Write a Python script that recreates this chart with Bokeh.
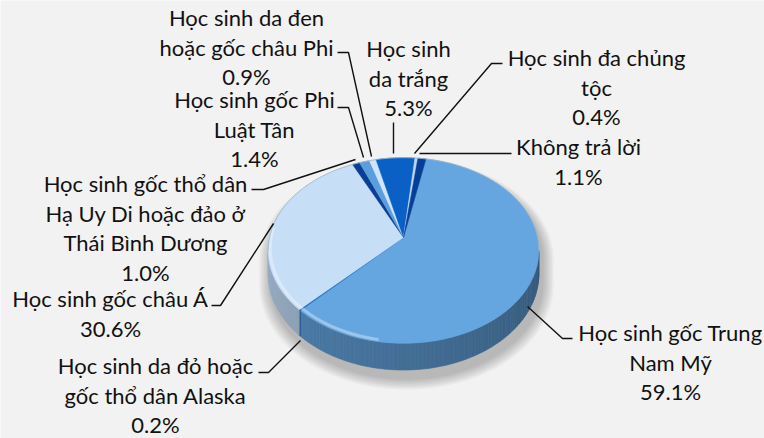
import math
from bokeh.plotting import figure
from bokeh.models import Range1d
from bokeh.embed import file_html
from bokeh.resources import INLINE
from bokeh.core.properties import value

# ---------------- data (clockwise order of the slices) ----------------
categories = [
    "Học sinh gốc Trung Nam Mỹ",
    "Học sinh da đỏ hoặc gốc thổ dân Alaska",
    "Học sinh gốc châu Á",
    "Học sinh gốc thổ dân Hạ Uy Di hoặc đảo ở Thái Bình Dương",
    "Học sinh gốc Phi Luật Tân",
    "Học sinh da đen hoặc gốc châu Phi",
    "Học sinh da trắng",
    "Học sinh đa chủng tộc",
    "Không trả lời",
]
label_lines = [
    ["Học sinh gốc Trung", "Nam Mỹ"],
    ["Học sinh da đỏ hoặc", "gốc thổ dân Alaska"],
    ["Học sinh gốc châu Á"],
    ["Học sinh gốc thổ dân", "Hạ Uy Di hoặc đảo ở", "Thái Bình Dương"],
    ["Học sinh gốc Phi", "Luật Tân"],
    ["Học sinh da đen", "hoặc gốc châu Phi"],
    ["Học sinh", "da trắng"],
    ["Học sinh đa chủng", "tộc"],
    ["Không trả lời"],
]
percentages = [59.1, 0.2, 30.6, 1.0, 1.4, 0.9, 5.3, 0.4, 1.1]

# ---------------- styles / layout ----------------
colors = ["#66A6E0", "#1F6FC8", "#C6DFF7", "#0B3F96", "#5C9DDD",
          "#CDE5FA", "#0A60C4", "#BCD8F2", "#063F9A"]
# label block: centre x, y of first line
label_anchor = [(670, 332), (155, 365), (110, 298), (145, 183), (254, 99),
                (246, 17), (408, 48), (596, 57), (578, 146)]
# leader lines
leader_paths = [
    [(527, 306), (562, 338), (572, 338)],
    [(300, 340), (268, 372), (258, 372)],
    [(273, 223), (220, 305), (211, 305)],
    [(355, 159), (263, 189), (251, 189)],
    [(363, 157), (348, 107), (337, 107)],
    [(371, 156), (348, 52), (337, 52)],
    [(393, 153), (393, 122)],
    [(414, 153), (491, 63), (502, 63)],
    [(419, 153), (511, 153)],
]
LINE_STEP = 29.5
CX, CY, RX, RY, K, DEPTH = 403, 237, 134, 91, 0.14, 23
START = 11.0
W, H = 764, 438
BG = "#F2F2F2"


def proj(theta, z=0.0):
    t = math.radians(theta)
    u, v = math.sin(t), -math.cos(t)
    s = 1.0 / (1.0 - K * v)
    return CX + RX * u * s, CY + (RY * v + z) * s


def hex2rgb(h):
    h = h.lstrip("#")
    return tuple(int(h[i:i + 2], 16) for i in (0, 2, 4))


def rgb2hex(c):
    return "#%02x%02x%02x" % tuple(max(0, min(255, int(round(x)))) for x in c)


def shade(h, f):
    return rgb2hex([x * f for x in hex2rgb(h)])


def mix(h, other, a):
    c1, c2 = hex2rgb(h), hex2rgb(other)
    return rgb2hex([c1[i] * (1 - a) + c2[i] * a for i in range(3)])


total = sum(percentages)
bounds = []
acc = START
for pv in percentages:
    a0 = acc
    acc += pv / total * 360.0
    bounds.append((a0, acc))

p = figure(width=W, height=H, x_range=Range1d(0, W), y_range=Range1d(H, 0),
           output_backend="svg", toolbar_location=None, min_border=0)
p.axis.visible = False
p.grid.visible = False
p.outline_line_color = None
p.background_fill_color = BG
p.border_fill_color = BG

vis_lo = math.degrees(math.acos(-K))
vis_hi = 360.0 - vis_lo

# ---------- soft shadow ----------
sil_x, sil_y = [], []
n = 120
for i in range(n + 1):
    th = vis_hi + (360 - vis_hi + vis_lo) * i / n
    x, y = proj(th % 360, 0)
    sil_x.append(x); sil_y.append(y)
for i in range(n + 1):
    th = vis_lo + (vis_hi - vis_lo) * i / n
    x, y = proj(th, DEPTH)
    sil_x.append(x); sil_y.append(y)
for k in range(8, 0, -1):
    sc = 1 + 0.011 * k
    xs = [CX + 3 + (x - CX) * sc for x in sil_x]
    ys = [CY + 8 + (y - CY) * sc for y in sil_y]
    p.patch(xs, ys, fill_color="#000000", fill_alpha=0.03, line_color=None)

# ---------- side wall ----------
side_xs, side_ys, side_cols = [], [], []
step = 1.5
for (a0, a1), col in zip(bounds, colors):
    lo, hi = max(a0, vis_lo), min(a1, vis_hi)
    if hi <= lo:
        continue
    th = lo
    while th < hi - 1e-9:
        th2 = min(hi, th + step)
        pts = [proj(th, 0), proj(th2, 0), proj(th2, DEPTH), proj(th, DEPTH)]
        mid = (th + th2) / 2
        f = 0.55 + 0.30 * (mid - vis_lo) / (vis_hi - vis_lo)
        side_xs.append([q[0] for q in pts])
        side_ys.append([q[1] for q in pts])
        side_cols.append(mix(shade(col, f), "#1f3f66", 0.12))
        th = th2
p.patches(side_xs, side_ys, fill_color=side_cols, line_color=side_cols, line_width=0.6)

# ---------- top faces ----------
top_xs, top_ys = [], []
for (a0, a1) in bounds:
    m = max(2, int((a1 - a0) / 1.0))
    xs, ys = [CX], [CY]
    for i in range(m + 1):
        x, y = proj(a0 + (a1 - a0) * i / m, 0)
        xs.append(x); ys.append(y)
    top_xs.append(xs); top_ys.append(ys)
p.patches(top_xs, top_ys, fill_color=colors, line_color=colors, line_width=0.5)

# bevel highlight along the front-left rim and subtle outline at back
rim_x, rim_y = [], []
for i in range(61):
    th = 190 + 85 * i / 60
    x, y = proj(th, 0)
    rim_x.append(x + 2); rim_y.append(y - 2)
p.line(rim_x, rim_y, line_color="#FFFFFF", line_alpha=0.35, line_width=3)
back_x, back_y = [], []
for i in range(121):
    th = vis_hi + (360 - vis_hi + vis_lo) * i / 120
    x, y = proj(th % 360, 0)
    back_x.append(x); back_y.append(y)
p.line(back_x, back_y, line_color="#9FB2C6", line_width=1, line_alpha=0.8)

# ---------- leader lines ----------
p.multi_line([[q[0] for q in path] for path in leader_paths],
             [[q[1] for q in path] for path in leader_paths],
             line_color="#111111", line_width=1.4)

# ---------- labels ----------
tx, ty, tt = [], [], []
for lines, pv, (ax, ay) in zip(label_lines, percentages, label_anchor):
    for j, s in enumerate(lines + [f"{pv:.1f}%"]):
        tx.append(ax); ty.append(ay + j * LINE_STEP); tt.append(s)
p.text(x=tx, y=ty, text=tt, text_align="center", text_baseline="middle",
       text_font=value("Lato"), text_font_size="22px", text_color="#111111")

open("out.html", "w").write(file_html(p, INLINE))
